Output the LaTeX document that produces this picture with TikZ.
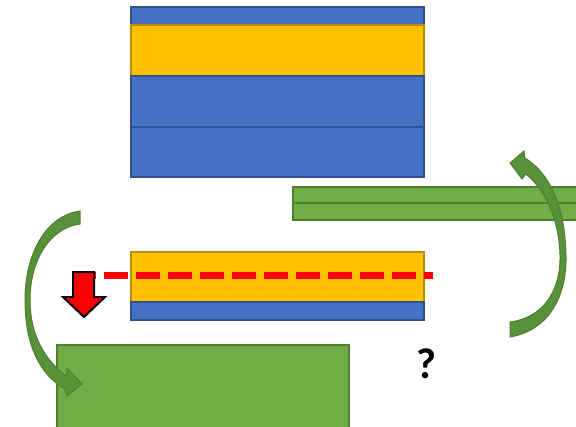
\documentclass[tikz,border=0pt]{standalone}
\usepackage{fontspec}
\setmainfont{Carlito}
\definecolor{layerblue}{RGB}{68,114,196}
\definecolor{layerblueedge}{RGB}{47,82,143}
\definecolor{layergold}{RGB}{255,192,0}
\definecolor{layergoldedge}{RGB}{188,140,0}
\definecolor{leafgreen}{RGB}{112,173,71}
\definecolor{leafgreenedge}{RGB}{80,126,50}
\definecolor{arrowgreen}{RGB}{88,146,56}
\tikzset{
  bluelayer/.style={fill=layerblue,draw=layerblueedge,line width=2pt},
  goldlayer/.style={fill=layergold,draw=layergoldedge,line width=2pt},
  greenslab/.style={fill=leafgreen,draw=leafgreenedge,line width=2pt},
  bendarrow/.style={fill=arrowgreen,draw=leafgreenedge,line width=1pt,line join=miter},
  cutline/.style={draw=red,line width=7pt,dash pattern=on 24pt off 8pt},
  droparrow/.style={fill=red,draw=black,line width=2pt,line join=miter},
  querytext/.style={font=\bfseries\fontsize{43}{43}\selectfont,inner sep=0pt}
}
\begin{document}
\begin{tikzpicture}[x=1pt,y=-1pt]
  \useasboundingbox (0,0) rectangle (576,426);
  \clip (0,0) rectangle (576,426);

  % upper stack of four layers
  \path[bluelayer] (131,7) rectangle (424,25);
  \path[goldlayer] (131,25) rectangle (424,76);
  \path[bluelayer] (131,76) rectangle (424,127);
  \path[bluelayer] (131,127) rectangle (424,177);

  % two thin green strips on the right
  \path[greenslab] (293,187) rectangle (590,203);
  \path[greenslab] (293,203) rectangle (590,220);

  % curved arrow on the right (tail at the bottom, head at the top)
  \path[bendarrow] (510,337) .. controls (550,330) and (567,295) .. (566,255)
    .. controls (565,210) and (552,175) .. (525,158)
    -- (524,151) -- (510,163) -- (522,179) -- (526,174)
    .. controls (545,190) and (559,218) .. (560,255)
    .. controls (561,292) and (542,318) .. (510,322) -- cycle;

  % lower stack of two layers
  \path[goldlayer] (131,252) rectangle (424,302);
  \path[bluelayer] (131,302) rectangle (424,320);

  % dashed cutting line
  \coordinate (cutA) at (72,275);
  \coordinate (cutB) at (433,275);
  \draw[cutline] (cutA) -- (cutB);

  % red downward arrow
  \path[droparrow] (73,272) -- (94,272) -- (94,297) -- (105,297) -- (84,317)
    -- (63,297) -- (73,297) -- cycle;

  % green block at the bottom
  \path[greenslab] (57,345) rectangle (349,440);

  % curved arrow on the left (tail at the top, head at the bottom)
  \path[bendarrow] (80,211) .. controls (45,216) and (25,255) .. (25,300)
    .. controls (25,345) and (40,375) .. (65,389)
    -- (67,396) -- (82,384) -- (67,368) -- (66,376)
    .. controls (45,360) and (30,335) .. (30,300)
    .. controls (30,260) and (50,228) .. (80,224) -- cycle;

  % question mark
  \node[querytext] (q) at (426.5,364) {?};
\end{tikzpicture}
\end{document}
